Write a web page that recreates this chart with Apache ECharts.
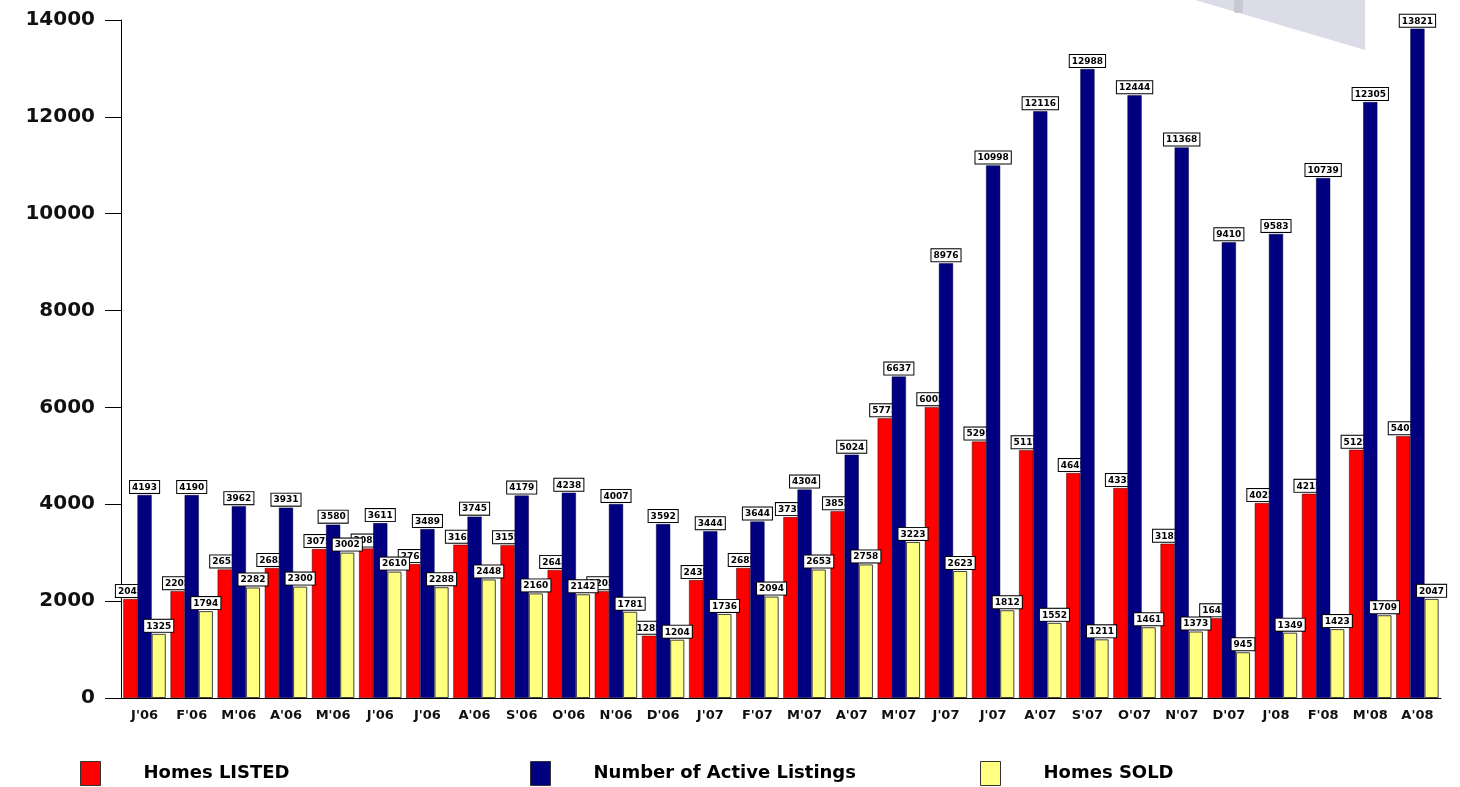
<!DOCTYPE html>
<html>
<head>
<meta charset="utf-8">
<title>Homes listed / active / sold</title>
<script src="https://cdn.jsdelivr.net/npm/echarts@6/dist/echarts.min.js"></script>
<style>
  html, body { margin: 0; padding: 0; background: #fff; }
  #chart { width: 1460px; height: 787px; }
</style>
</head>
<body>
<div id="chart"></div>
<script>
const months = ["J'06", "F'06", "M'06", "A'06", "M'06", "J'06", "J'06", "A'06", "S'06", "O'06", "N'06", "D'06",
  "J'07", "F'07", "M'07", "A'07", "M'07", "J'07", "J'07", "A'07", "S'07", "O'07", "N'07", "D'07",
  "J'08", "F'08", "M'08", "A'08"]

// red bars, labels only partly visible in the picture so last digit estimated
const homesListed = [2045, 2205, 2655, 2685, 3075, 3085, 2765, 3165, 3155, 2645, 2205, 1285,
  2435, 2685, 3735, 3855, 5775, 6005, 5295, 5115, 4645, 4335, 3185, 1645,
  4025, 4215, 5125, 5405]

const activeListings = [4193, 4190, 3962, 3931, 3580, 3611, 3489, 3745, 4179, 4238, 4007, 3592,
  3444, 3644, 4304, 5024, 6637, 8976, 10998, 12116, 12988, 12444, 11368, 9410,
  9583, 10739, 12305, 13821]

const homesSold = [1325, 1794, 2282, 2300, 3002, 2610, 2288, 2448, 2160, 2142, 1781, 1204,
  1736, 2094, 2653, 2758, 3223, 2623, 1812, 1552, 1211, 1461, 1373, 945,
  1349, 1423, 1709, 2047]

const yTicks = { min: 0, max: 14000, interval: 2000 }

const chart = echarts.init(document.getElementById('chart'))

const boxLabel = {
  show: true,
  position: 'top',
  distance: 2,
  fontFamily: 'DejaVu Sans',
  fontWeight: 'bold',
  fontSize: 9,
  color: '#000',
  backgroundColor: '#fff',
  borderColor: '#000',
  borderWidth: 1,
  padding: [2, 2, 1, 2]
}

function legendAt(name, left) {
  return {
    data: [{ name: name, icon: 'rect' }],
    left: left,
    top: 756,
    itemWidth: 20,
    itemHeight: 24,
    selectedMode: false,
    itemStyle: { borderColor: '#333', borderWidth: 1 },
    textStyle: { fontFamily: 'DejaVu Sans', fontWeight: 'bold', fontSize: 18, color: '#000', padding: [0, 0, 0, 38] }
  }
}

chart.setOption({
  animation: false,
  backgroundColor: '#fff',
  grid: { left: 121, right: 19, top: 20, bottom: 89 },
  legend: [
    legendAt('Homes LISTED', 75),
    legendAt('Number of Active Listings', 525),
    legendAt('Homes SOLD', 975)
  ],
  graphic: [
    {
      type: 'polygon',
      silent: true,
      z: -1,
      shape: { points: [[1195, 0], [1365, 0], [1365, 50]] },
      style: { fill: '#dcdce8' }
    },
    {
      type: 'rect',
      silent: true,
      z: -1,
      shape: { x: 1234, y: 0, width: 9, height: 13, r: 2 },
      style: { fill: '#c8c8d0' }
    }
  ],
  xAxis: {
    type: 'category',
    data: months,
    axisLine: { lineStyle: { color: '#000', width: 1 } },
    axisTick: { alignWithLabel: true, length: 8, lineStyle: { color: '#000' } },
    axisLabel: {
      interval: 0,
      margin: 11,
      fontFamily: 'DejaVu Sans',
      fontWeight: 'bold',
      fontSize: 13,
      color: '#111'
    }
  },
  yAxis: {
    type: 'value',
    min: yTicks.min,
    max: yTicks.max,
    interval: yTicks.interval,
    splitLine: { show: false },
    axisLine: { show: true, lineStyle: { color: '#000', width: 1 } },
    axisTick: { show: true, length: 16, lineStyle: { color: '#000' } },
    axisLabel: {
      margin: 26,
      formatter: v => String(v),
      fontFamily: 'DejaVu Sans',
      fontWeight: 'bold',
      fontSize: 20,
      color: '#111'
    }
  },
  series: [
    {
      name: 'Homes LISTED',
      type: 'bar',
      z: 2,
      data: homesListed,
      barGap: '0%',
      barCategoryGap: '10%',
      itemStyle: { color: '#ff0000', borderColor: '#400000', borderWidth: 0.5 },
      label: boxLabel
    },
    {
      name: 'Number of Active Listings',
      type: 'bar',
      z: 3,
      data: activeListings,
      itemStyle: { color: '#000080', borderColor: '#000040', borderWidth: 0.5 },
      label: boxLabel
    },
    {
      name: 'Homes SOLD',
      type: 'bar',
      z: 4,
      data: homesSold,
      itemStyle: { color: '#ffff80', borderColor: '#444', borderWidth: 1 },
      label: boxLabel
    }
  ]
})
</script>
</body>
</html>
